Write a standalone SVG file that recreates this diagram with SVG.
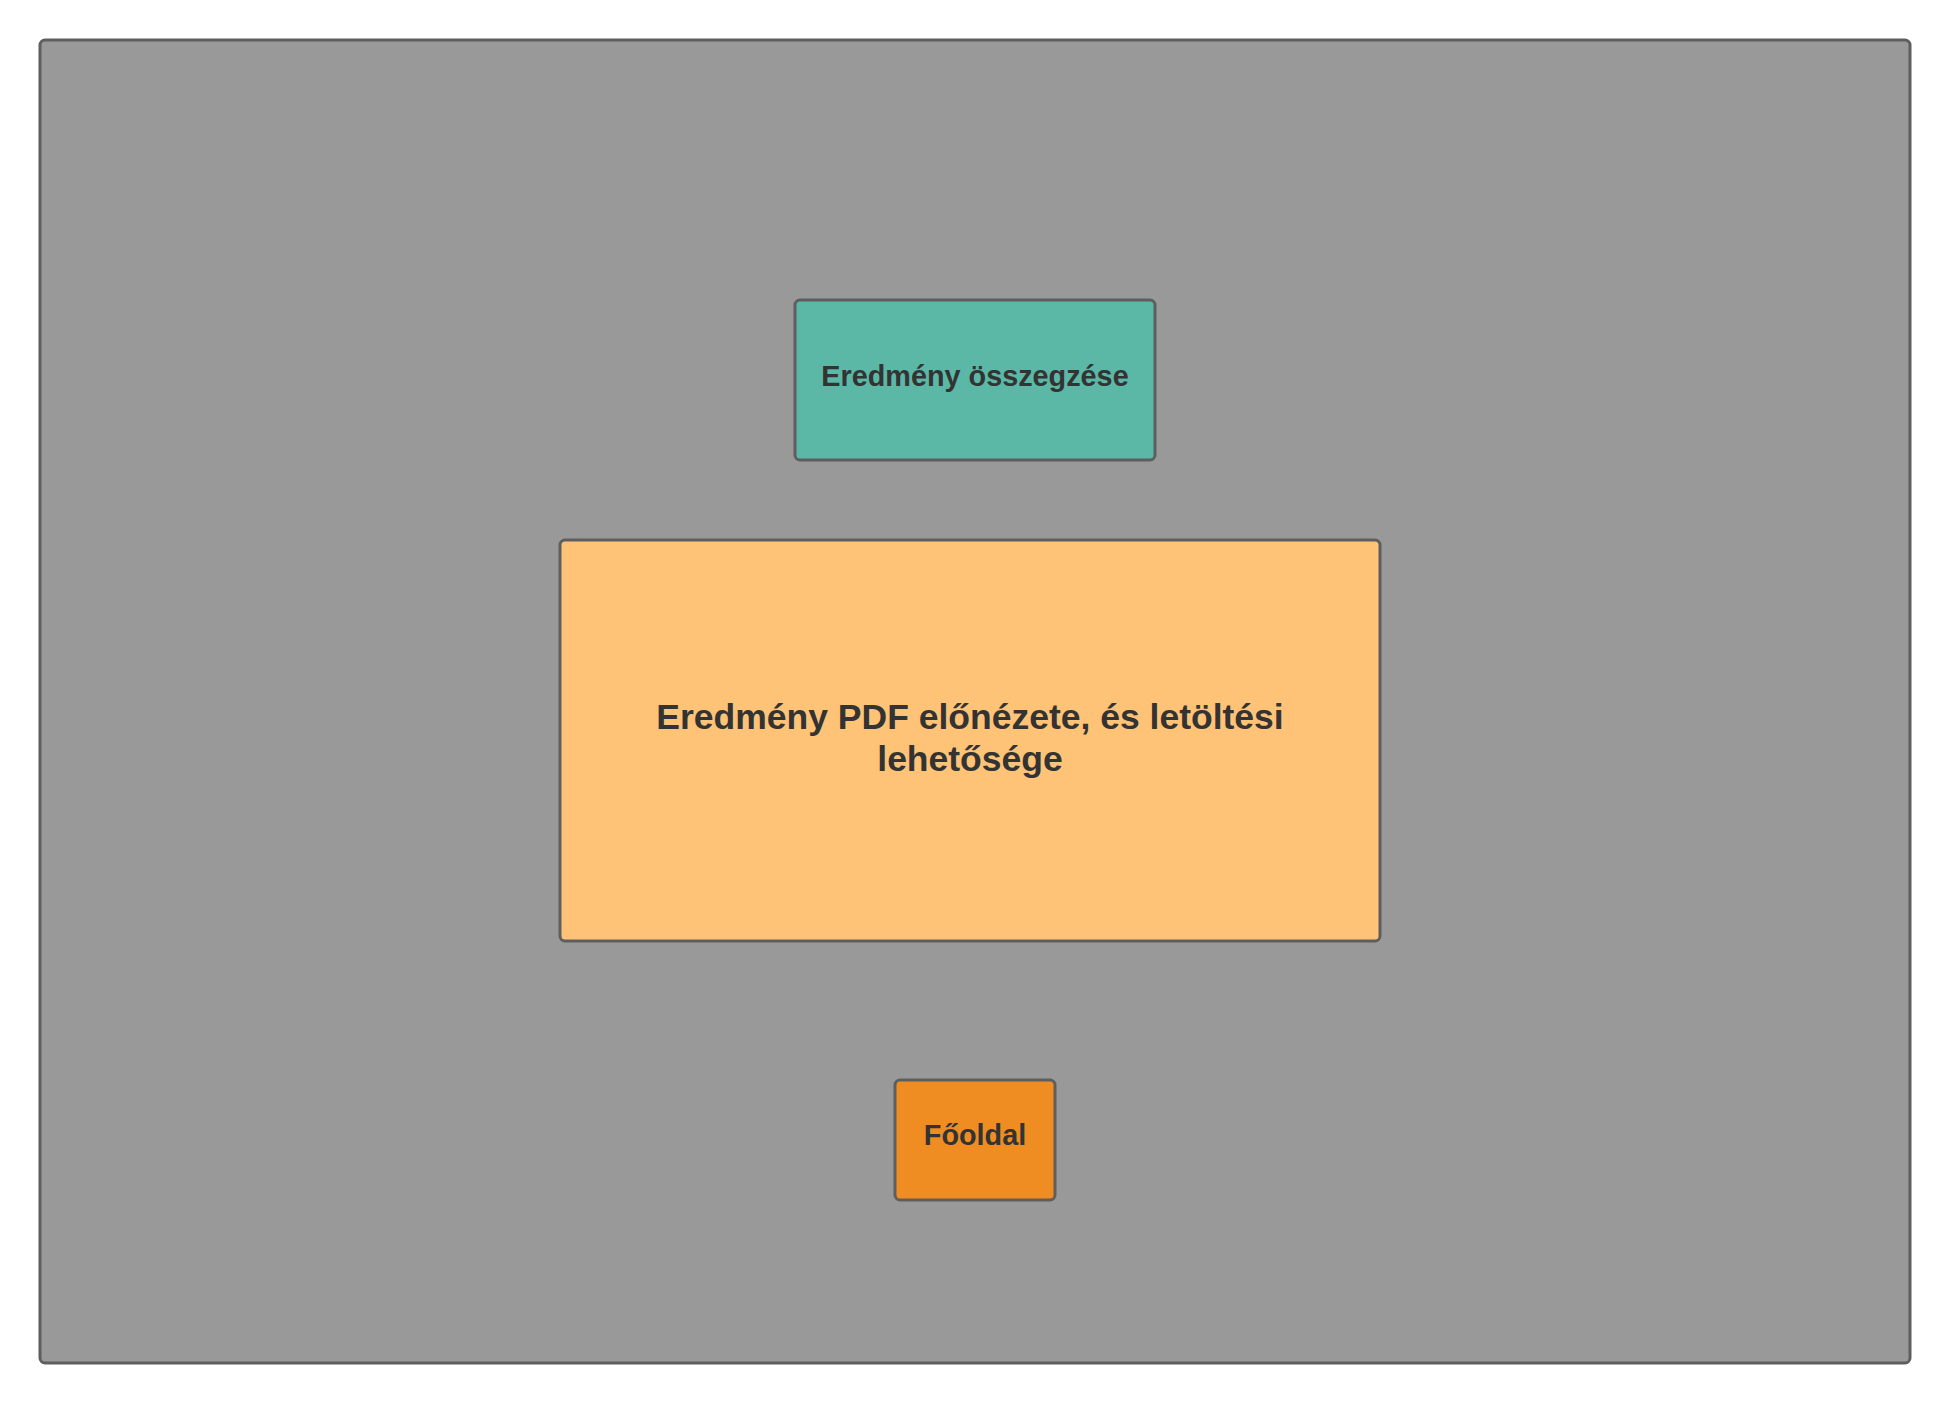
<svg xmlns="http://www.w3.org/2000/svg" width="1950" height="1403" viewBox="0 0 1950 1403">
<style>
.box{stroke:#5e5e5e;stroke-width:3}
.t{font-family:"Liberation Sans",Arial,sans-serif;font-weight:bold;fill:#333333;text-anchor:middle}
</style>
<rect width="1950" height="1403" fill="#ffffff"/>
<g id="container"><rect class="box" x="40" y="40" width="1870" height="1323" rx="5" fill="#999999"/></g>
<g id="summary"><rect class="box" x="795" y="300" width="360" height="160" rx="5" fill="#5bb8a6"/><text class="t" x="975" y="386" font-size="28.8">Eredmény összegzése</text></g>
<g id="pdf"><rect class="box" x="560" y="540" width="820" height="401" rx="5" fill="#fec377"/><text class="t" x="970" y="729" font-size="35.5">Eredmény PDF előnézete, és letöltési</text><text class="t" x="970" y="771" font-size="35.5">lehetősége</text></g>
<g id="fooldal"><rect class="box" x="895" y="1080" width="160" height="120" rx="5" fill="#ef8d22"/><text class="t" x="975" y="1145" font-size="28.8">Főoldal</text></g>
<g id="connectors"></g>
</svg>
